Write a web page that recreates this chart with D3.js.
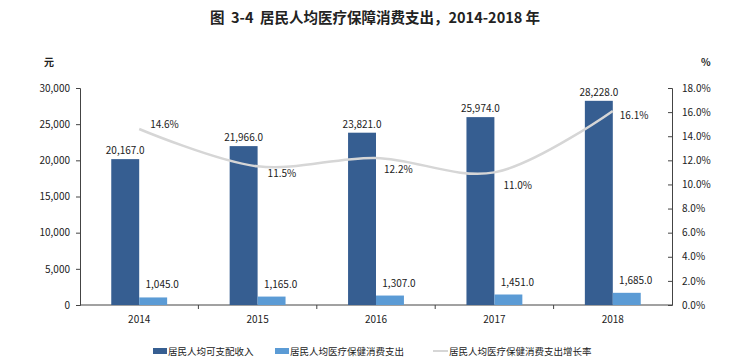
<!DOCTYPE html>
<html>
<head>
<meta charset="utf-8">
<script src="https://cdn.jsdelivr.net/npm/d3@7"></script>
<style>
  body { margin: 0; background: #fff; }
  svg text { font-family: "Noto Sans CJK SC", "Noto Sans", sans-serif; fill: #222; }
</style>
</head>
<body>
<div id="chart"></div>
<script>
// data
var years = ["2014", "2015", "2016", "2017", "2018"];
var income = [20167, 21966, 23821, 25974, 28228];
var medical = [1045, 1165, 1307, 1451, 1685];
var growth = [14.6, 11.5, 12.2, 11.0, 16.1];
var leftTicks = [0, 5000, 10000, 15000, 20000, 25000, 30000];
var rightTicks = [0, 2, 4, 6, 8, 10, 12, 14, 16, 18];
var seriesNames = ["居民人均可支配收入", "居民人均医疗保健消费支出", "居民人均医疗保健消费支出增长率"];

var W = 729, H = 359;
var plotL = 80, plotR = 672, plotT = 88, plotB = 305;
var darkBlue = "#365e91", lightBlue = "#5b9bd5", lineGrey = "#d6d6d6";

var svg = d3.select("#chart").append("svg")
    .attr("width", W)
    .attr("height", H);

// title
svg.append("text")
    .attr("x", 375).attr("y", 23)
    .attr("text-anchor", "middle")
    .attr("xml:space", "preserve")
    .style("white-space", "pre")
    .style("font-size", "14.5px")
    .style("font-weight", "bold")
    .text("图  3-4  居民人均医疗保障消费支出，2014-2018 年");

// scales
var x = d3.scaleBand().domain(years).range([plotL, plotR]);
var yL = d3.scaleLinear().domain([0, 30000]).range([plotB, plotT]);
var yR = d3.scaleLinear().domain([0, 18]).range([plotB, plotT]);
var barW = x.bandwidth() * 0.236;

// left axis
var axL = svg.append("g")
    .attr("transform", "translate(" + plotL + ",0)")
    .call(d3.axisLeft(yL).tickValues(leftTicks).tickSize(4).tickPadding(6)
        .tickFormat(d3.format(",")));
// right axis (ticks point inward)
var axR = svg.append("g")
    .attr("transform", "translate(" + plotR + ",0)")
    .call(d3.axisRight(yR).tickValues(rightTicks).tickSize(-4).tickPadding(10)
        .tickFormat(function (d) { return d.toFixed(1) + "%"; }));
[axL, axR].forEach(function (a) {
    a.select(".domain").attr("stroke", "#444");
    a.selectAll(".tick line").attr("stroke", "#444");
    a.selectAll("text").style("font-size", "10px").attr("fill", "#222")
        .style("font-family", "'Noto Sans CJK SC', sans-serif");
});

// bottom axis
var xAxis = svg.append("g");
xAxis.append("line")
    .attr("x1", plotL).attr("x2", plotR)
    .attr("y1", plotB).attr("y2", plotB)
    .attr("stroke", "#444");
xAxis.selectAll("line.tk")
    .data(years.slice(1))
    .enter().append("line")
    .attr("class", "tk")
    .attr("x1", function (d) { return x(d); })
    .attr("x2", function (d) { return x(d); })
    .attr("y1", plotB).attr("y2", plotB + 4)
    .attr("stroke", "#444");
xAxis.selectAll("text")
    .data(years)
    .enter().append("text")
    .attr("x", function (d) { return x(d) + x.bandwidth() / 2; })
    .attr("y", plotB + 18)
    .attr("text-anchor", "middle")
    .style("font-size", "10px")
    .text(function (d) { return d; });

// unit labels
svg.append("text").attr("x", 44).attr("y", 66)
    .style("font-size", "10px").style("font-weight", "bold").text("元");
svg.append("text").attr("x", 701).attr("y", 66)
    .style("font-size", "10px").style("font-weight", "bold").text("%");

var fmt = d3.format(",.1f");
var cx = function (i) { return x(years[i]) + x.bandwidth() / 2; };

// income bars
svg.selectAll("rect.inc")
    .data(income)
    .enter().append("rect")
    .attr("class", "inc")
    .attr("x", function (d, i) { return cx(i) - barW; })
    .attr("y", function (d) { return yL(d); })
    .attr("width", barW)
    .attr("height", function (d) { return plotB - yL(d); })
    .attr("fill", darkBlue);

svg.selectAll("text.incLbl")
    .data(income)
    .enter().append("text")
    .attr("class", "incLbl")
    .attr("x", function (d, i) { return cx(i) - barW / 2; })
    .attr("y", function (d) { return yL(d) - 5; })
    .attr("text-anchor", "middle")
    .style("font-size", "10px")
    .text(function (d) { return fmt(d); });

// medical bars
svg.selectAll("rect.med")
    .data(medical)
    .enter().append("rect")
    .attr("class", "med")
    .attr("x", function (d, i) { return cx(i); })
    .attr("y", function (d) { return yL(d); })
    .attr("width", barW)
    .attr("height", function (d) { return plotB - yL(d); })
    .attr("fill", lightBlue);

svg.selectAll("text.medLbl")
    .data(medical)
    .enter().append("text")
    .attr("class", "medLbl")
    .attr("x", function (d, i) { return cx(i) + barW / 2 + 9; })
    .attr("y", function (d) { return yL(d) - 9; })
    .attr("text-anchor", "middle")
    .style("font-size", "10px")
    .text(function (d) { return fmt(d); });

// growth line
svg.append("path")
    .datum(growth)
    .attr("fill", "none")
    .attr("stroke", lineGrey)
    .attr("stroke-width", 2.5)
    .attr("d", d3.line()
        .x(function (d, i) { return cx(i); })
        .y(function (d) { return yR(d); })
        .curve(d3.curveCatmullRom.alpha(0.5)));

// label offsets (dx, dy) relative to each point
var lblOff = [[11, -1], [10, 11], [8, 15], [9, 17], [7, 8]];
svg.selectAll("text.grLbl")
    .data(growth)
    .enter().append("text")
    .attr("class", "grLbl")
    .attr("x", function (d, i) { return cx(i) + lblOff[i][0]; })
    .attr("y", function (d, i) { return yR(d) + lblOff[i][1]; })
    .style("font-size", "10px")
    .text(function (d) { return d.toFixed(1) + "%"; });

// legend
var lg = svg.append("g").attr("transform", "translate(0,352)");
lg.append("rect").attr("x", 153).attr("y", -4).attr("width", 14).attr("height", 6).attr("fill", darkBlue);
lg.append("text").attr("x", 168).attr("y", 3).style("font-size", "9.5px").text(seriesNames[0]);
lg.append("rect").attr("x", 275).attr("y", -4).attr("width", 14).attr("height", 6).attr("fill", lightBlue);
lg.append("text").attr("x", 290).attr("y", 3).style("font-size", "9.5px").text(seriesNames[1]);
lg.append("line").attr("x1", 433).attr("x2", 448).attr("y1", -1).attr("y2", -1)
    .attr("stroke", lineGrey).attr("stroke-width", 2);
lg.append("text").attr("x", 449).attr("y", 3).style("font-size", "9.5px").text(seriesNames[2]);
</script>
</body>
</html>
